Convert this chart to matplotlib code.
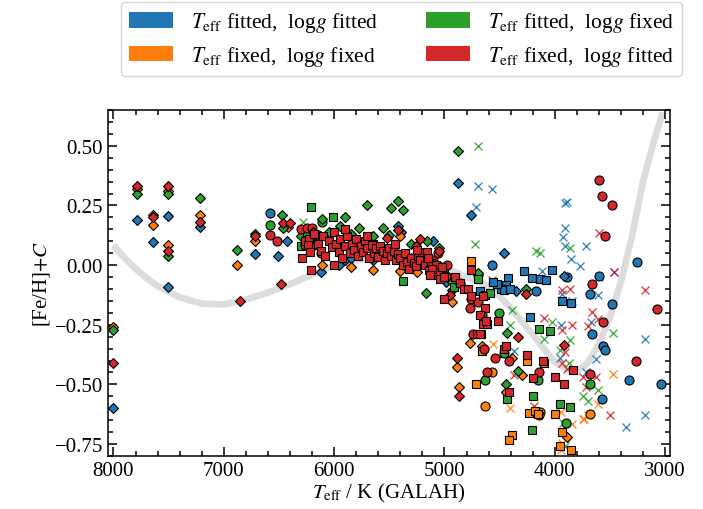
import matplotlib
matplotlib.use("Agg")
import matplotlib.pyplot as plt
from matplotlib.patches import Patch
from matplotlib.ticker import MultipleLocator

plt.rcParams['font.family'] = 'serif'
plt.rcParams['font.serif'] = ['Liberation Serif', 'DejaVu Serif']
plt.rcParams['mathtext.fontset'] = 'stix'
plt.rcParams['font.size'] = 15

# (Teff, [Fe/H]+C) per colour / marker group
blue_diamond = [(8000, -0.60), (7790, 0.19), (7640, 0.095), (7505, 0.205), (7505, -0.093),
                (7217, 0.16), (6713, 0.045), (6430, 0.10), (6510, 0.04), (6120, -0.03),
                (5960, 0.0), (5900, 0.02), (5417, 0.165), (5390, 0.14), (5300, 0.03),
                (5150, 0.02), (5030, -0.01), (4990, -0.07), (4880, 0.345), (4760, 0.21),
                (4463, 0.05), (4355, -0.108), (3914, -0.046), (4697, -0.04), (4934, -0.105),
                (5100, 0.10), (5850, 0.03), (5650, 0.02)]
blue_square = [(4277, -0.025), (4205, -0.054), (4133, -0.058), (4080, -0.062), (4022, -0.02),
               (3932, -0.15), (3850, -0.158), (4420, -0.054), (4440, -0.083), (4490, -0.10),
               (4460, -0.105), (4410, -0.10), (4520, -0.08), (4220, -0.217), (4680, -0.11),
               (5030, -0.03), (4560, -0.07)]
blue_circle = [(6578, 0.22), (4565, 0.0), (4166, -0.108), (3257, 0.013), (3600, -0.046),
               (3680, -0.12), (3483, -0.163), (3662, -0.29), (3563, -0.34), (3545, -0.355),
               (3325, -0.48), (3040, -0.50), (3573, -0.56), (3890, -0.05)]
blue_x = [(4700, 0.33), (4573, 0.32), (4715, 0.245), (3905, 0.26), (3890, 0.265), (3905, 0.155),
          (3925, 0.117), (3905, 0.08), (3855, 0.025), (3720, 0.08), (3773, -0.004), (4120, -0.025),
          (3464, -0.03), (3180, -0.31), (3185, -0.63), (3356, -0.68), (3946, -0.25), (3673, -0.24),
          (3628, -0.395), (3955, -0.39), (3719, -0.45), (3610, -0.125), (3846, -0.15), (4372, -0.36),
          (3937, -0.12), (3600, -0.05)]

orange_diamond = [(8000, -0.26), (7790, 0.32), (7640, 0.17), (7505, 0.31), (7505, 0.083),
                  (7217, 0.21), (6884, 0.0), (6713, 0.10), (6420, 0.16), (6113, 0.0),
                  (5850, -0.01), (5650, -0.02), (5406, 0.12), (5400, -0.025), (5250, -0.03),
                  (4934, -0.154), (4770, -0.325), (4660, -0.34), (4890, -0.425), (4870, -0.51),
                  (4385, -0.39), (4300, -0.46), (4440, -0.53), (3890, -0.72)]
orange_square = [(4762, 0.017), (4715, -0.50), (4254, -0.40), (4460, -0.37), (4100, -0.41),
                 (4230, -0.62), (4180, -0.61), (4150, -0.625), (4000, -0.625), (4390, -0.71),
                 (4417, -0.735), (3937, -0.70), (3850, -0.775), (4660, -0.36), (3950, -0.76)]
orange_circle = [(4565, -0.45), (4636, -0.59), (4136, -0.617), (3683, -0.625), (4140, -0.63)]
orange_x = [(4563, -0.33), (4408, -0.60), (4191, -0.55), (3475, -0.455), (3610, -0.58),
            (3746, -0.645), (3700, -0.63), (3946, -0.615), (3846, -0.665), (3946, -0.775),
            (3737, -0.645), (3930, -0.745)]

green_diamond = [(8000, -0.27), (7790, 0.30), (7640, 0.21), (7505, 0.30), (7505, 0.04),
                 (7217, 0.28), (6884, 0.063), (6713, 0.13), (6476, 0.21), (6460, 0.155),
                 (6113, 0.195), (6050, 0.14), (5950, 0.165), (5700, 0.25), (5480, 0.24),
                 (5417, 0.27), (5380, 0.23), (5903, 0.20), (5778, 0.157), (5560, 0.157),
                 (5500, 0.125), (5160, 0.10), (4880, 0.48), (4934, -0.07), (4697, -0.033),
                 (4435, -0.285), (4444, -0.50), (4336, -0.445), (4263, -0.10), (5170, -0.115),
                 (6300, 0.12), (5850, 0.13), (5650, 0.12), (5300, 0.09), (5050, 0.07)]
green_square = [(6210, 0.245), (6010, 0.20), (5820, 0.11), (5375, -0.066), (4700, -0.058),
                (4630, -0.125), (4430, -0.56), (4200, -0.55), (4210, -0.69), (3950, -0.58),
                (3860, -0.596), (4145, -0.267), (4040, -0.275), (6300, 0.08), (6150, 0.12),
                (5650, 0.09), (5400, 0.02), (5180, 0.04), (5000, -0.02), (4910, -0.09),
                (4590, -0.115), (6250, 0.14)]
green_circle = [(6578, 0.17), (6113, 0.18), (4508, -0.20), (4636, -0.48), (4150, -0.48),
                (3683, -0.50), (3900, -0.66), (6250, 0.13), (4460, -0.37)]
green_x = [(6281, 0.18), (4700, 0.50), (4724, 0.088), (4166, 0.058), (3864, 0.07), (4136, 0.05),
           (4408, -0.25), (4390, -0.19), (4027, -0.24), (4100, -0.31), (3864, -0.315),
           (3955, -0.355), (3873, -0.41), (3475, -0.286), (3610, -0.524), (3746, -0.55),
           (3700, -0.57), (3928, -0.66), (3910, -0.76)]

red_diamond = [(8000, -0.41), (7790, 0.33), (7640, 0.20), (7505, 0.33), (7505, 0.06),
               (7217, 0.18), (6850, -0.15), (6713, 0.12), (6480, -0.08), (6460, 0.175),
               (6400, 0.175), (5525, 0.115), (5417, 0.145), (5225, 0.11), (5260, 0.08),
               (6190, 0.14), (4950, -0.125), (4890, -0.39), (4870, -0.55), (4336, -0.30),
               (4263, -0.12), (3914, -0.336), (5050, 0.06)]
red_square = [(6260, 0.10), (6230, 0.11), (6240, 0.085), (6220, 0.055), (6290, 0.03),
              (6210, -0.02), (6180, 0.13), (6150, 0.09), (6120, 0.06), (6100, 0.12),
              (6080, 0.04), (6050, 0.10), (6020, 0.075), (6000, 0.14), (5980, 0.09),
              (5960, 0.055), (5950, 0.11), (5930, 0.03), (5900, 0.08), (5880, 0.12),
              (5860, 0.05), (5840, 0.09), (5820, 0.065), (5800, 0.11), (5780, 0.04),
              (5760, 0.08), (5740, 0.055), (5720, 0.10), (5700, 0.07), (5680, 0.03),
              (5660, 0.085), (5640, 0.05), (5620, 0.07), (5600, 0.035), (5580, 0.08),
              (5560, 0.06), (5540, 0.02), (5520, 0.05), (5500, 0.07), (5480, 0.04),
              (5460, 0.06), (5440, 0.02), (5420, 0.045), (5400, 0.03), (5380, 0.0),
              (5360, 0.05), (5340, 0.015), (5320, -0.015), (5300, 0.03), (5280, 0.01),
              (5260, -0.005), (5240, 0.04), (5220, 0.02), (5200, 0.055), (5180, 0.0),
              (5160, 0.03), (5140, -0.02), (5120, 0.01), (5100, -0.04), (5080, 0.0),
              (5060, -0.03), (5040, -0.06), (5020, -0.01), (5000, -0.05), (4907, -0.05),
              (4762, -0.02), (4862, -0.077), (4825, -0.10), (5007, -0.14), (4653, -0.13),
              (4635, -0.18), (4680, -0.21), (4653, -0.245), (4610, -0.245), (4707, -0.29),
              (4670, -0.29), (4463, -0.35), (4417, -0.53), (4254, -0.375), (4200, -0.475),
              (4109, -0.40), (4000, -0.47), (3918, -0.50), (4444, -0.34), (3837, -0.44),
              (4517, -0.235), (4620, -0.235), (4680, -0.29), (4790, -0.10), (4760, -0.13),
              (5160, 0.053), (5150, 0.028), (5110, -0.015), (5130, -0.04), (6000, 0.0),
              (5900, 0.15), (5700, 0.12), (5450, 0.09), (5250, 0.065)]
red_circle = [(6578, 0.125), (6520, 0.10), (6300, 0.15), (6250, 0.155), (6200, 0.155),
              (6150, 0.125), (6180, 0.083), (6260, 0.083), (6120, 0.05), (5100, 0.02),
              (5040, -0.013), (4990, -0.046), (4862, -0.075), (4762, -0.14), (4700, -0.154),
              (4770, -0.18), (4662, -0.21), (4644, -0.35), (4544, -0.39), (4617, -0.45),
              (4417, -0.40), (4145, -0.45), (3600, 0.357), (3573, 0.29), (3483, 0.25),
              (3546, 0.12), (3662, -0.08), (3563, -0.24), (3260, -0.40), (3072, -0.183),
              (3683, -0.455), (4740, -0.29), (5060, 0.05), (4980, 0.0)]
red_x = [(6281, 0.13), (4573, -0.063), (3937, -0.104), (3864, -0.10), (3600, 0.133),
         (3464, -0.03), (3180, -0.104), (4100, -0.22), (3846, -0.25), (3937, -0.27),
         (3664, -0.195), (3610, -0.225), (3700, -0.255), (3910, -0.365), (3891, -0.435),
         (3937, -0.41), (3746, -0.47), (3628, -0.47), (3719, -0.51), (3500, -0.63),
         (4191, -0.59), (4372, -0.46)]

# smooth reference relation drawn behind the stars
curve_teff = [8000, 7900, 7800, 7700, 7600, 7400, 7200, 7000, 6800, 6600, 6400, 6200, 6000,
              5800, 5600, 5400, 5200, 5000, 4900, 4800, 4700, 4600, 4500, 4400, 4300, 4200,
              4100, 4000, 3900, 3800, 3700, 3600, 3500, 3400, 3300, 3200, 3100, 3020]
curve_val = [0.083, 0.03, -0.015, -0.055, -0.088, -0.135, -0.162, -0.165, -0.145, -0.115,
             -0.08, -0.04, 0.0, 0.02, 0.03, 0.03, 0.015, -0.01, -0.03, -0.05, -0.068, -0.09,
             -0.13, -0.18, -0.235, -0.29, -0.35, -0.405, -0.435, -0.445, -0.41, -0.33, -0.22,
             -0.07, 0.12, 0.35, 0.52, 0.64]

colours = ['tab:blue', 'tab:orange', 'tab:green', 'tab:red']
labels = [r'$T_\mathrm{eff}$ fitted,  log$g$ fitted', r'$T_\mathrm{eff}$ fixed,  log$g$ fixed',
          r'$T_\mathrm{eff}$ fitted,  log$g$ fixed', r'$T_\mathrm{eff}$ fixed,  log$g$ fitted']
groups = [
    (blue_circle, blue_diamond, blue_square, blue_x),
    (orange_circle, orange_diamond, orange_square, orange_x),
    (green_circle, green_diamond, green_square, green_x),
    (red_circle, red_diamond, red_square, red_x),
]

fig = plt.figure(figsize=(7.03, 5.10), dpi=100)
ax = fig.add_axes([0.1536, 0.1039, 0.7995, 0.6785])

ax.plot(curve_teff, curve_val, color='#dcdcdc', lw=4.8, solid_capstyle='butt',
        solid_joinstyle='round', zorder=1)

for colour, (circ, diam, sq, xs) in zip(colours, groups):
    for pts, mk, ms in [(circ, 'o', 6.5), (diam, 'D', 4.8), (sq, 's', 6.3)]:
        t, v = zip(*pts)
        ax.plot(t, v, ls='none', marker=mk, ms=ms, mfc=colour, mec='k', mew=0.8, zorder=3)
    t, v = zip(*xs)
    ax.plot(t, v, ls='none', marker='x', ms=5.5, mew=1.0, color=colour, alpha=0.85, zorder=2)

ax.set_xlim(8050, 2955)
ax.set_ylim(-0.8, 0.65)
ax.xaxis.set_major_locator(MultipleLocator(1000))
ax.xaxis.set_minor_locator(MultipleLocator(200))
ax.yaxis.set_major_locator(MultipleLocator(0.25))
ax.yaxis.set_minor_locator(MultipleLocator(0.05))
ax.tick_params(which='both', direction='in', top=True, right=True, width=1.1)
ax.tick_params(which='major', length=6.5)
ax.tick_params(which='minor', length=3.5)
for sp in ax.spines.values():
    sp.set_linewidth(1.1)

ax.set_xlabel(r'$T_\mathrm{eff}$ / K (GALAH)', labelpad=1)
ax.set_ylabel(r'[Fe/H]$+C$', labelpad=2)

handles = [Patch(facecolor=c) for c in colours]
fig.legend(handles, labels, ncol=2, loc='upper center', bbox_to_anchor=(0.571, 0.994),
           borderaxespad=0, fontsize=15.5, columnspacing=2.2, handlelength=2.05,
           handleheight=0.75, handletextpad=0.84, borderpad=0.38, labelspacing=0.45)

fig.savefig('out.png', dpi=100)
